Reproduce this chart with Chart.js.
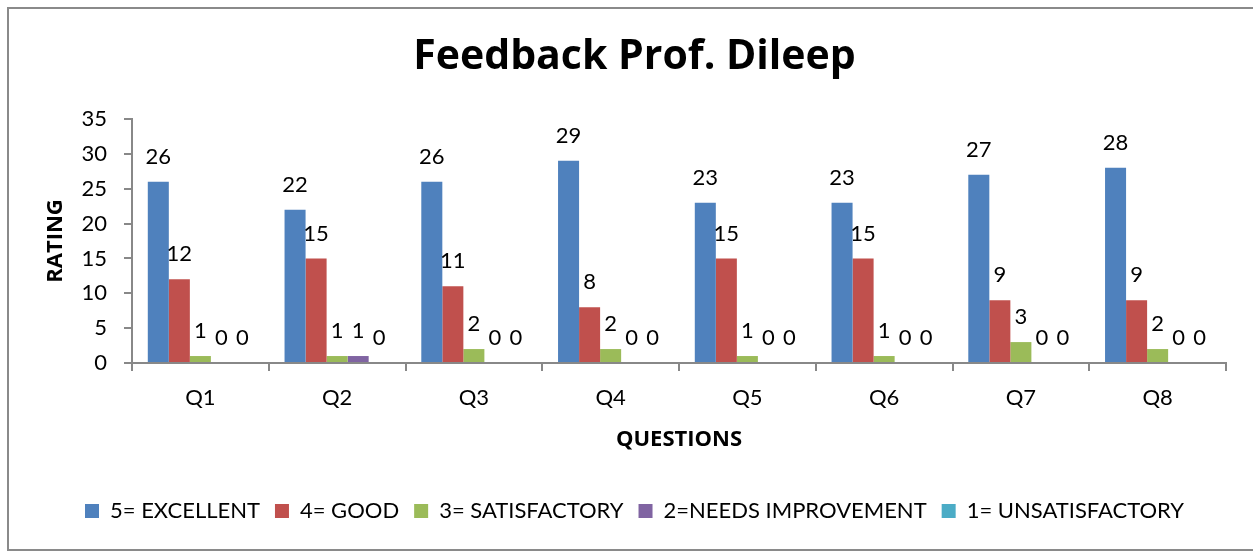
<!DOCTYPE html>
<html>
<head>
<meta charset="utf-8">
<script src="https://cdn.jsdelivr.net/npm/chart.js@4.4.1/dist/chart.umd.min.js"></script>
<style>
  html, body { margin: 0; padding: 0; background: #ffffff; }
  #wrap { width: 1253px; height: 553px; position: relative; }
</style>
</head>
<body>
<div id="wrap"><canvas id="c" width="1253" height="553"></canvas></div>
<script>
const categories = ["Q1", "Q2", "Q3", "Q4", "Q5", "Q6", "Q7", "Q8"];
const seriesNames = ["5= EXCELLENT", "4= GOOD", "3= SATISFACTORY", "2=NEEDS IMPROVEMENT", "1= UNSATISFACTORY"];
const excellent = [26, 22, 26, 29, 23, 23, 27, 28];
const good = [12, 15, 11, 8, 15, 15, 9, 9];
const satisfactory = [1, 1, 2, 2, 1, 1, 3, 2];
const needsImprovement = [0, 1, 0, 0, 0, 0, 0, 0];
const unsatisfactory = [0, 0, 0, 0, 0, 0, 0, 0];
const yTicks = [0, 5, 10, 15, 20, 25, 30, 35];
const colors = ["#4F81BD", "#C0504D", "#9BBB59", "#8064A2", "#4BACC6"];
const seriesValues = [excellent, good, satisfactory, needsImprovement, unsatisfactory];

const FONT = "Lato, 'Open Sans', sans-serif";
const BOLD_FONT = "'Open Sans', Lato, sans-serif";

const borderPlugin = {
  id: 'outerBorder',
  beforeDraw(chart) {
    const ctx = chart.ctx;
    ctx.save();
    ctx.fillStyle = '#ffffff';
    ctx.fillRect(0, 0, chart.width, chart.height);
    ctx.strokeStyle = '#8a8a8a';
    ctx.lineWidth = 2;
    ctx.strokeRect(8, 8, 1260, 542);
    ctx.restore();
  }
};

const labelPlugin = {
  id: 'valueLabels',
  afterDatasetsDraw(chart) {
    const ctx = chart.ctx;
    ctx.save();
    ctx.font = "22px " + FONT;
    ctx.fillStyle = '#000000';
    ctx.textAlign = 'center';
    ctx.textBaseline = 'middle';
    chart.data.datasets.forEach((ds, di) => {
      const meta = chart.getDatasetMeta(di);
      meta.data.forEach((el, i) => {
        ctx.fillText(String(ds.data[i]), el.x, el.y - 25);
      });
    });
    ctx.restore();
  }
};

new Chart(document.getElementById('c'), {
  type: 'bar',
  data: {
    labels: categories,
    datasets: seriesNames.map((name, k) => ({
      label: name,
      data: seriesValues[k],
      backgroundColor: colors[k],
      borderColor: colors[k],
      borderWidth: 0,
      categoryPercentage: 0.769,
      barPercentage: 1.0
    }))
  },
  options: {
    responsive: false,
    animation: false,
    devicePixelRatio: 1,
    layout: { padding: { left: 43, right: 27, top: 0, bottom: 21 } },
    plugins: {
      title: {
        display: true,
        text: 'Feedback Prof. Dileep',
        color: '#000000',
        font: { family: BOLD_FONT, size: 41, weight: 'bold', lineHeight: 1.2 },
        padding: { top: 33, bottom: 36.8 }
      },
      legend: {
        display: true,
        position: 'bottom',
        labels: {
          color: '#000000',
          font: { family: FONT, size: 22 },
          boxWidth: 14,
          boxHeight: 14,
          padding: 15
        }
      },
      tooltip: { enabled: false }
    },
    scales: {
      x: {
        grid: { display: true, drawOnChartArea: false, drawTicks: true, tickLength: 8, color: '#888888', lineWidth: 2, offset: true },
        border: { display: true, color: '#888888', width: 2 },
        ticks: { color: '#000000', font: { family: FONT, size: 22, lineHeight: 1.2 }, padding: 14 },
        title: {
          display: true, text: 'QUESTIONS', color: '#000000',
          font: { family: BOLD_FONT, size: 22, weight: 'bold', lineHeight: 1.2 },
          padding: { top: 0, bottom: 32 }
        },
        afterFit(scale) { scale.height = 122; }
      },
      y: {
        min: 0, max: 35,
        afterBuildTicks(scale) { scale.ticks = yTicks.map(v => ({ value: v })); },
        grid: { display: true, drawOnChartArea: false, drawTicks: true, tickLength: 8, color: '#888888', lineWidth: 2 },
        border: { display: true, color: '#888888', width: 2 },
        ticks: { color: '#000000', font: { family: FONT, size: 22 }, padding: 17 },
        title: {
          display: true, text: 'RATING', color: '#000000',
          font: { family: BOLD_FONT, size: 22, weight: 'bold', lineHeight: 1.2 },
          padding: { top: 0, bottom: 0 }
        },
        afterFit(scale) { scale.width = 89; }
      }
    }
  },
  plugins: [borderPlugin, labelPlugin]
});
</script>
</body>
</html>
